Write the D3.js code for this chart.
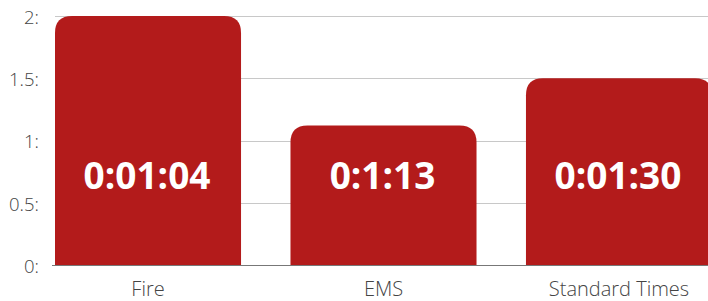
<!DOCTYPE html>
<html>
<head>
<meta charset="utf-8">
<script src="https://cdn.jsdelivr.net/npm/d3@7"></script>
<style>
  body { margin: 0; background: #fff; }
  svg { display: block; font-family: "Open Sans", sans-serif; }
</style>
</head>
<body>
<div id="chart"></div>
<script>
var categories = ["Fire", "EMS", "Standard Times"];
var values = [2.0, 1.12, 1.5];
var barLabels = ["0:01:04", "0:1:13", "0:01:30"];
var yTicks = [0, 0.5, 1, 1.5, 2];
var yTickLabels = ["0:", "0.5:", "1:", "1.5:", "2:"];

var width = 708, height = 301,
    margin = {top: 16, right: -4, bottom: 36, left: 55};

var svg = d3.select("#chart").append("svg")
  .attr("width", width)
  .attr("height", height);

var x = d3.scaleBand()
  .domain(categories)
  .range([margin.left, width - margin.right])
  .paddingInner(0.21)
  .paddingOuter(0);

var y = d3.scaleLinear()
  .domain([0, 2])
  .range([height - margin.bottom, margin.top]);

// grid lines
svg.append("g")
  .selectAll("line")
  .data(yTicks.slice(1))
  .enter()
  .append("line")
  .attr("x1", margin.left)
  .attr("x2", width)
  .attr("y1", function(d){ return Math.round(y(d)) + 0.5; })
  .attr("y2", function(d){ return Math.round(y(d)) + 0.5; })
  .style("stroke", "#c8c8c8")
  .style("stroke-width", 1);

// y tick labels
svg.append("g")
  .selectAll("text")
  .data(yTicks)
  .enter()
  .append("text")
  .attr("x", 39)
  .attr("y", function(d){ return y(d); })
  .attr("dy", "0.42em")
  .style("text-anchor", "end")
  .style("font-size", "18.5px")
  .style("font-weight", 300)
  .style("fill", "#444")
  .text(function(d, i){ return yTickLabels[i]; });

var r = 17;
function barPath(d, i) {
  var x0 = x(categories[i]), x1 = x0 + x.bandwidth(),
      y0 = y(0), y1 = y(d);
  return "M" + x0 + "," + y0 +
    "V" + (y1 + r) +
    "Q" + x0 + "," + y1 + " " + (x0 + r) + "," + y1 +
    "H" + (x1 - r) +
    "Q" + x1 + "," + y1 + " " + x1 + "," + (y1 + r) +
    "V" + y0 + "Z";
}

svg.append("g")
  .selectAll("path")
  .data(values)
  .enter()
  .append("path")
  .attr("d", barPath)
  .style("fill", "#b31b1b");

// baseline
svg.append("line")
  .attr("x1", 52)
  .attr("x2", width)
  .attr("y1", Math.round(y(0)) + 0.5)
  .attr("y2", Math.round(y(0)) + 0.5)
  .style("stroke", "#777")
  .style("stroke-width", 1);

// labels inside bars
svg.append("g")
  .selectAll("text")
  .data(barLabels)
  .enter()
  .append("text")
  .attr("x", function(d, i){ return x(categories[i]) + x.bandwidth() / 2 - 1; })
  .attr("y", 189)
  .style("text-anchor", "middle")
  .style("font-size", "37px")
  .style("font-weight", "bold")
  .style("fill", "#fff")
  .text(function(d){ return d; });

// category labels
svg.append("g")
  .selectAll("text")
  .data(categories)
  .enter()
  .append("text")
  .attr("x", function(d){ return x(d) + x.bandwidth() / 2; })
  .attr("y", 296)
  .style("text-anchor", "middle")
  .style("font-size", "20px")
  .style("font-weight", 300)
  .style("fill", "#444")
  .text(function(d){ return d; });
</script>
</body>
</html>
